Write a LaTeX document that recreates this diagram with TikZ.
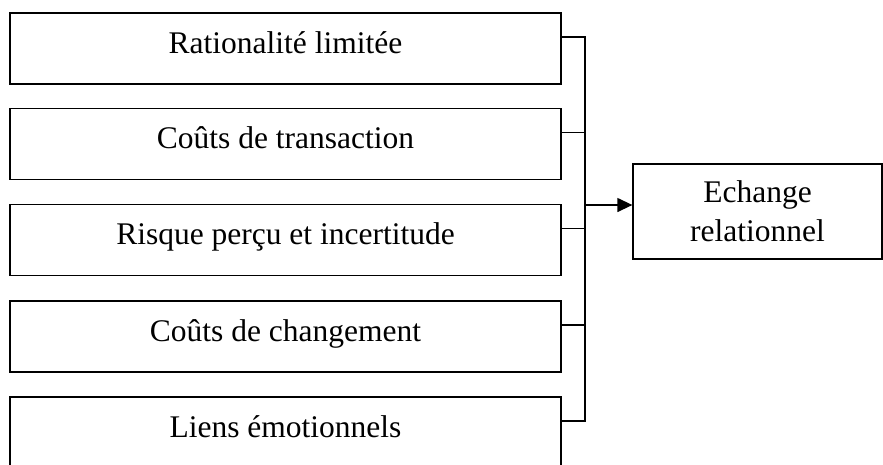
\documentclass[tikz,border=0pt]{standalone}
\usepackage{fontspec}
\setmainfont{Liberation Serif}
\usetikzlibrary{arrows.meta}
\tikzset{
    facteur/.style={draw, line width=1.3pt, minimum width=551pt, minimum height=71pt,
        inner sep=0pt, text height=22pt, text depth=13pt, font=\fontsize{31.5}{38}\selectfont},
    resultat/.style={draw, line width=1.3pt, minimum width=249pt, minimum height=95pt,
        inner sep=0pt, align=center, font=\fontsize{31.5}{39}\selectfont},
    lien/.style={line width=1.3pt},
}

\begin{document}
\begin{tikzpicture}[x=1pt, y=-1pt]
\useasboundingbox (0,0) rectangle (883,464);
%Facteurs
\node[facteur] (f1) at (285.5,48.5) {Rationalité limitée};
\node[facteur] (f2) at (285.5,144) {Coûts de transaction};
\node[facteur] (f3) at (285.5,240) {Risque perçu et incertitude};
\node[facteur] (f4) at (285.5,336.5) {Coûts de changement};
\node[facteur] (f5) at (285.5,432.5) {Liens émotionnels};
%Resultat
\node[resultat] (rel) at (757.5,211.5) {Echange\\relationnel};
%Connecteurs
\coordinate (bus) at (585,205);
\foreach \f in {f1,f2,f3,f4,f5}
    \draw[lien] ([yshift=11.5pt]\f.east) -| (bus);
\draw[lien, -{Triangle[length=15pt, width=14pt]}] (bus) -- (bus -| rel.west);
\end{tikzpicture}
\end{document}
